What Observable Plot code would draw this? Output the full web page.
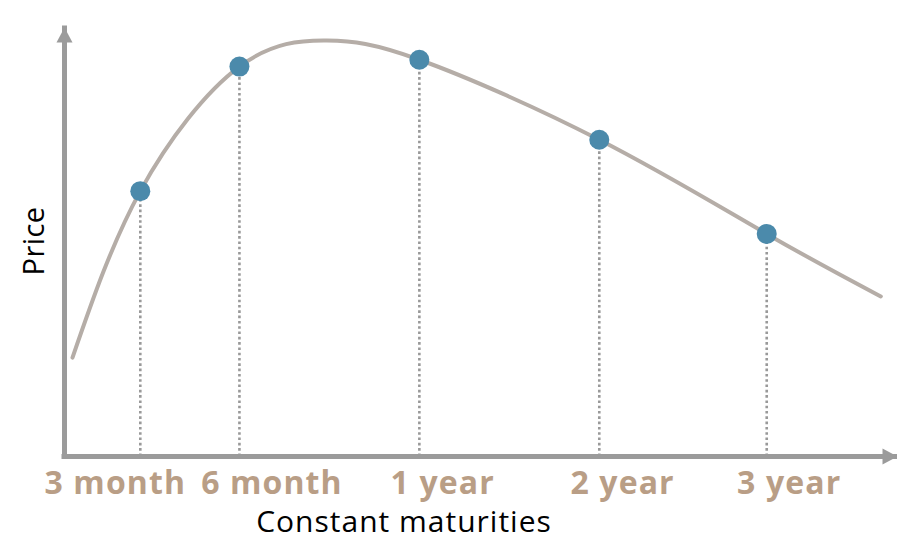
<!DOCTYPE html>
<html>
<head>
<meta charset="utf-8">
<script src="https://cdn.jsdelivr.net/npm/d3@7"></script>
<script src="https://cdn.jsdelivr.net/npm/@observablehq/plot@0.6"></script>
<style>
  html, body { margin: 0; padding: 0; background: #fff; }
  #chart svg { display: block; }
  #chart g[font-size="32"] text { letter-spacing: 1.1px; }
  #chart g[font-size="30"] text { letter-spacing: 1px; }
  #chart g[font-size="29"] text { letter-spacing: 0.4px; }
</style>
</head>
<body>
<div id="chart"></div>
<script>
// Maturities (categories) and the observed points on the curve
const maturities = ["3 month", "6 month", "1 year", "2 year", "3 year"];
const maturityX  = [9.1, 21.0, 42.6, 64.2, 84.3];     // position along the maturity axis
const priceY     = [62.0, 91.1, 92.7, 74.0, 52.0];    // price at each maturity
// Tick label positions (labels are offset from the points in the original)
const labelX     = [6.1, 24.9, 45.4, 67.0, 87.0];

// Fitted price curve
const curveX = [0.96, 9.1, 21.0, 31.5, 42.6, 64.2, 84.3, 98.0];
const curveY = [23.1, 62.0, 91.1, 97.2, 92.7, 74.0, 52.0, 37.4];

const points = maturities.map((m, i) => ({m, x: maturityX[i], y: priceY[i]}));
const curve = curveX.map((x, i) => ({x, y: curveY[i]}));
const labels = maturities.map((m, i) => ({m, x: labelX[i]}));

const axisColor = "#9b9b9b";
const tan = "#b99e86";
const font = "'Open Sans', 'Noto Sans', sans-serif";

// filled triangles pointing up / right
const triUp = {draw(ctx) {
  const h = 15, w = 16;
  ctx.moveTo(0, -h / 2); ctx.lineTo(w / 2, h / 2); ctx.lineTo(-w / 2, h / 2); ctx.closePath();
}};
const triRight = {draw(ctx) {
  const h = 15, w = 16;
  ctx.moveTo(h / 2, 0); ctx.lineTo(-h / 2, w / 2); ctx.lineTo(-h / 2, -w / 2); ctx.closePath();
}};

const chart = Plot.plot({
  width: 897,
  height: 537,
  marginLeft: 64,
  marginRight: 0,
  marginTop: 28,
  marginBottom: 81,
  style: {fontFamily: font, background: "#fff", overflow: "visible"},
  x: {domain: [0, 100], axis: null},
  y: {domain: [0, 100], axis: null},
  marks: [
    // drop lines
    Plot.ruleX(points, {x: "x", y1: 0, y2: "y", stroke: "#999", strokeWidth: 2.6, strokeDasharray: "2.6,2.7"}),
    // curve
    Plot.line(curve, {x: "x", y: "y", curve: "natural", stroke: "#b5ada7", strokeWidth: 4}),
    // axes
    Plot.ruleX([0], {stroke: axisColor, strokeWidth: 5, strokeLinecap: "square"}),
    Plot.ruleY([0], {stroke: axisColor, strokeWidth: 5, strokeLinecap: "square"}),
    Plot.dot([0], {x: 0, frameAnchor: "top", symbol: triUp, r: 8, fill: axisColor, stroke: "none", dy: 6.5}),
    Plot.dot([0], {y: 0, frameAnchor: "right", symbol: triRight, r: 8, fill: axisColor, stroke: "none", dx: -7.5}),
    // points
    Plot.dot(points, {x: "x", y: "y", r: 10, fill: "#4b8aab", stroke: "none"}),
    // tick labels
    Plot.text(labels, {x: "x", text: "m", frameAnchor: "bottom", lineAnchor: "bottom", textAnchor: "middle", dy: 37,
      fill: tan, fontSize: 32, fontWeight: "bold", fontFamily: font}),
    // axis titles
    Plot.text(["Constant maturities"], {frameAnchor: "bottom", lineAnchor: "bottom", textAnchor: "middle", dy: 75.5, dx: -77,
      fill: "#000", fontSize: 30, fontFamily: font}),
    Plot.text(["Price"], {frameAnchor: "left", rotate: -90, lineAnchor: "bottom", textAnchor: "middle", dx: -21, dy: -1.5,
      fill: "#000", fontSize: 29, fontFamily: font})
  ]
});
document.getElementById("chart").appendChild(chart);
</script>
</body>
</html>
